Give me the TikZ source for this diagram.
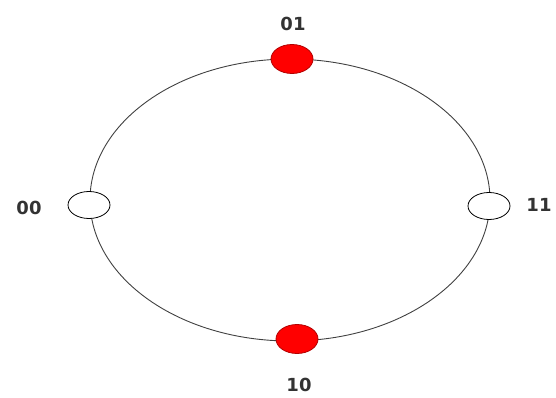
\documentclass[tikz,border=0pt]{standalone}
\usepackage{fontspec}
\setmainfont{DejaVu Sans}
\usetikzlibrary{shapes.geometric}
\begin{document}
\begin{tikzpicture}[x=1pt,y=-1pt,
  ring/.style={draw=black!75, line width=0.9pt},
  redstate/.style={ellipse, draw=red!70!black, fill=red, line width=0.8pt, minimum width=42pt, minimum height=29pt, inner sep=0pt},
  whitestate/.style={ellipse, draw=black, fill=white, line width=0.8pt, minimum width=42pt, minimum height=27pt, inner sep=0pt},
  lab/.style={font=\fontsize{18}{21}\selectfont\bfseries, text=black!80}]
\useasboundingbox (0,0) rectangle (556,398);
\draw[ring] (290,200) ellipse [x radius=200, y radius=141];
\node[redstate] (n01) at (292,59) {};
\node[whitestate] (n00) at (89,205) {};
\node[whitestate] (n11) at (489,206) {};
\node[redstate] (n10) at (297,339) {};
\node[lab] (l01) at (293,24) {01};
\node[lab] (l00) at (29,208) {00};
\node[lab] (l11) at (539,205) {11};
\node[lab] (l10) at (299,385) {10};
\end{tikzpicture}
\end{document}
